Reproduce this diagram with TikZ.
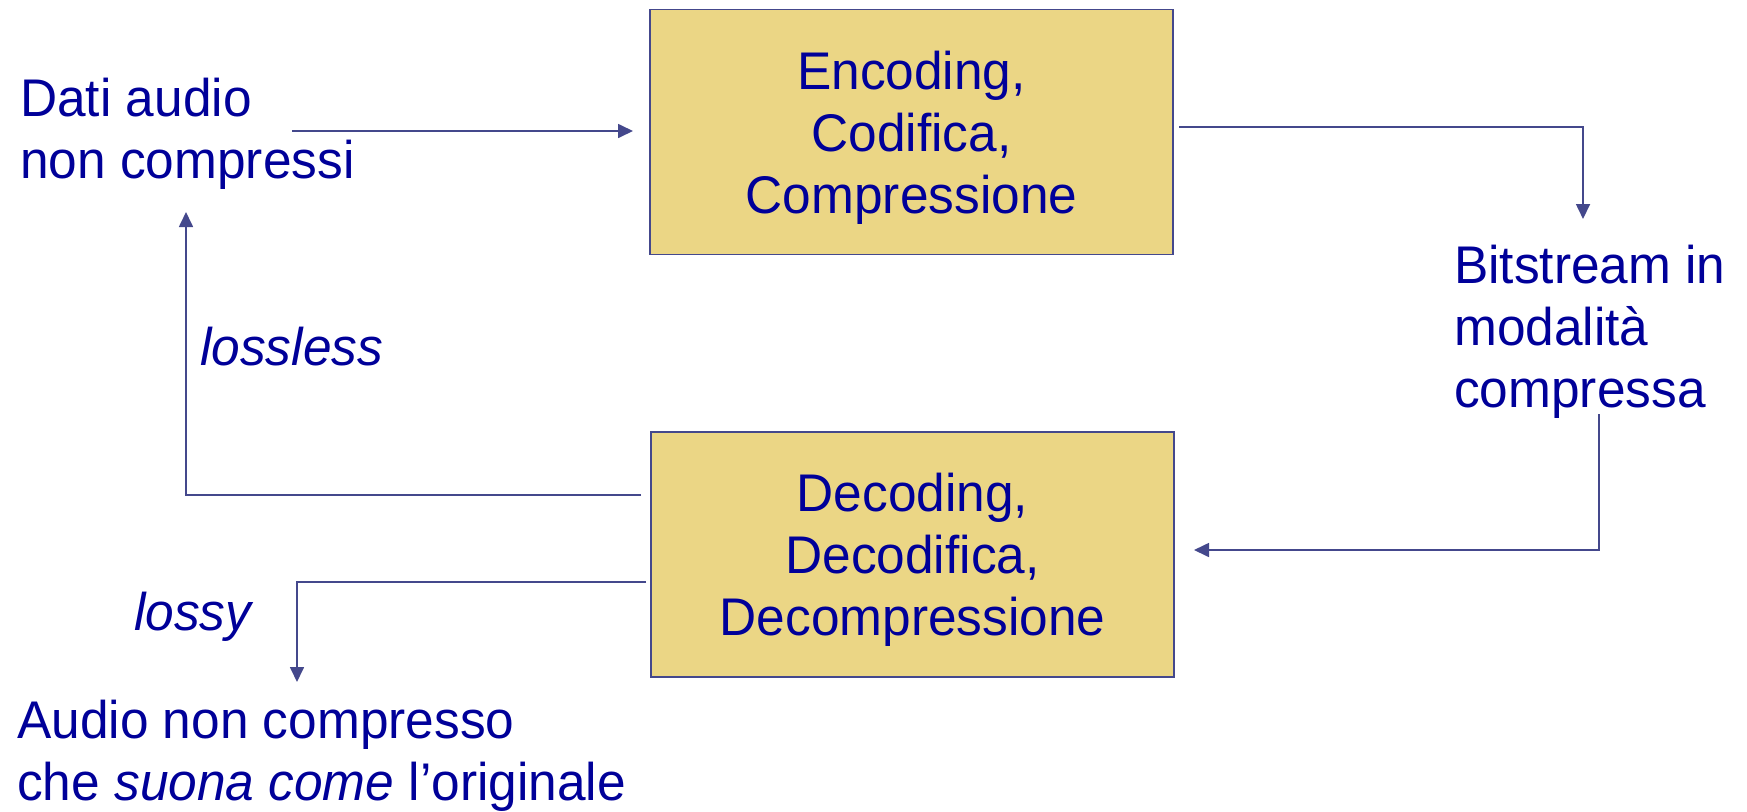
\documentclass[tikz,border=0pt]{standalone}
\usepackage{fontspec}
\setmainfont[FakeStretch=0.97]{Liberation Sans}
\usetikzlibrary{arrows.meta}
\definecolor{txt}{RGB}{0,0,153}
\definecolor{lnc}{RGB}{68,72,140}
\definecolor{boxfill}{RGB}{235,214,133}
\begin{document}
\begin{tikzpicture}[x=1pt,y=-1pt,
  lbl/.style={inner sep=0pt, text=txt, font=\fontsize{53}{62}\selectfont, align=left},
  itl/.style={lbl, font=\fontsize{53}{62}\selectfont\itshape},
  blk/.style={draw=lnc, line width=1.7pt, fill=boxfill, minimum width=523pt, minimum height=245pt,
    inner sep=0pt, text=txt, font=\fontsize{53}{62}\selectfont, align=center},
  arr/.style={draw=lnc, line width=1.7pt, -{Triangle[length=15pt,width=14pt]}}]
\useasboundingbox (0,0) rectangle (1747,811);
% blocks
\node[blk] (enc) at (911.5,132) {\rule{0pt}{49pt}Encoding,\\Codifica,\\Compressione};
\node[blk] (dec) at (912.5,554.5) {\rule{0pt}{49pt}Decoding,\\Decodifica,\\Decompressione};
% labels (base = baseline of last line)
\node[lbl, anchor=base west] (dati) at (20,178) {Dati audio\\non compressi};
\node[lbl, anchor=base west] (bits) at (1454,407) {Bitstream in\\modalità\\compressa};
\node[itl, anchor=base west] (lossless) at (200,365) {lossless};
\node[itl, anchor=base west] (lossy) at (134,630) {lossy};
\node[lbl, anchor=base west] (out) at (17,800) {Audio non compresso\\che \textit{suona come} l'originale};
% connector ends
\coordinate (a1s) at (292,131);
\coordinate (a1e) at (633,131);
\coordinate (a2s) at (1179,127);
\coordinate (a2e) at (1583,219);
\coordinate (a3s) at (1599,414);
\coordinate (a3e) at (1194,550);
\coordinate (a4s) at (641,495);
\coordinate (a4e) at (186,212);
\coordinate (a5s) at (646,582);
\coordinate (a5e) at (297,682);
% connectors
\draw[arr] (a1s) -- (a1e);
\draw[arr] (a2s) -| (a2e);
\draw[arr] (a3s) |- (a3e);
\draw[arr] (a4s) -| (a4e);
\draw[arr] (a5s) -| (a5e);
\end{tikzpicture}
\end{document}
